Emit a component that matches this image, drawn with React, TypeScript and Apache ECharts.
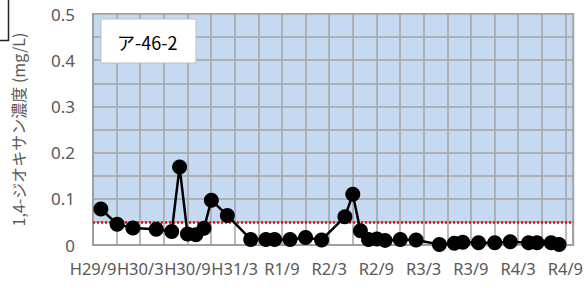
import React, { useEffect, useRef } from "react";
import * as echarts from "echarts";

const sampleDates = [
  "2017-10-01", "2017-12-03", "2018-02-03", "2018-05-02", "2018-07-01",
  "2018-08-01", "2018-09-01", "2018-10-03", "2018-11-04", "2018-12-02",
  "2019-02-03", "2019-05-02", "2019-06-30", "2019-08-03", "2019-10-02",
  "2019-12-01", "2020-02-02", "2020-05-01", "2020-06-01", "2020-06-30",
  "2020-08-01", "2020-09-03", "2020-10-04", "2020-12-02", "2021-02-02",
  "2021-05-01", "2021-06-28", "2021-07-30", "2021-09-30", "2021-12-02",
  "2022-02-01", "2022-04-11", "2022-05-13", "2022-07-07", "2022-08-07",
];
const concentrations = [
  0.078, 0.045, 0.037, 0.034, 0.029,
  0.169, 0.024, 0.022, 0.036, 0.097,
  0.064, 0.012, 0.012, 0.012, 0.012,
  0.016, 0.011, 0.061, 0.11, 0.031,
  0.012, 0.013, 0.010, 0.012, 0.011,
  0.001, 0.004, 0.006, 0.005, 0.005,
  0.007, 0.005, 0.005, 0.005, 0.001,
];
const xTickLabels = [
  "H29/9", "H30/3", "H30/9", "H31/3", "R1/9", "R2/3",
  "R2/9", "R3/3", "R3/9", "R4/3", "R4/9",
];
const standardValue = 0.05;
const yMax = 0.5;
const axisStartYear = 2017;
const axisStartMonth = 9;
const axisEndMonths = 61;
const wellName = "ア-46-2";
const yAxisTitle = "1,4-ジオキサン濃度 (mg/L)";

function monthIndex(d: string): number {
  const [y, m, day] = d.split("-").map(Number);
  return (y - axisStartYear) * 12 + (m - axisStartMonth) + (day - 1) / 30;
}

export default function App() {
  const ref = useRef<HTMLDivElement>(null);
  useEffect(() => {
    document.body.style.margin = "0";
    if (!ref.current) return;
    const chart = echarts.init(ref.current, undefined, { renderer: "svg" });
    const points = sampleDates.map((d, i) => [monthIndex(d), concentrations[i]]);
    const gray = "#595959";
    chart.setOption({
      animation: false,
      grid: {
        left: 93, top: 14, right: 10, bottom: 43,
        show: true, borderColor: "#a0a0a0", borderWidth: 2,
        backgroundColor: "transparent", z: 0,
      },
      xAxis: {
        type: "value", min: 0, max: axisEndMonths, interval: 3, z: 2,
        axisLine: { show: true, lineStyle: { color: "#a0a0a0", width: 2 } },
        axisTick: { show: false },
        splitLine: { show: true, lineStyle: { color: "#a3a3a3", width: 1.5 } },
        axisLabel: {
          margin: 15, color: gray, fontSize: 16.5, fontFamily: "Noto Sans",
          showMaxLabel: false,
          formatter: (v: number) => {
            const r = Math.round(v);
            if (r % 6 !== 0) return "";
            return xTickLabels[r / 6] ?? "";
          },
        },
      },
      yAxis: {
        type: "value", min: 0, max: yMax, interval: 0.05, z: 2,
        name: yAxisTitle, nameLocation: "middle", nameRotate: 90, nameGap: 67,
        nameTextStyle: { color: gray, fontSize: 16, fontFamily: "Noto Sans CJK JP" },
        axisLine: { show: true, lineStyle: { color: "#a0a0a0", width: 2 } },
        axisTick: { show: false },
        splitLine: { show: true, lineStyle: { color: "#a3a3a3", width: 1.5 } },
        axisLabel: {
          margin: 18, color: gray, fontSize: 17, fontFamily: "Noto Sans",
          formatter: (v: number) => {
            const c = Math.round(v * 100);
            if (c % 10 !== 0) return "";
            return c === 0 ? "0" : (c / 100).toFixed(1);
          },
        },
      },
      series: [
        {
          type: "line", z: 1, data: points, symbol: "none",
          lineStyle: { opacity: 0 }, silent: true,
          markArea: {
            z: 1, silent: true,
            itemStyle: { color: "#c5d9f1" },
            data: [[{ yAxis: standardValue }, { yAxis: yMax }]],
          },
        },
        {
          type: "line", z: 3, data: points, symbol: "none",
          lineStyle: { opacity: 0 }, silent: true,
          markLine: {
            z: 3, silent: true, symbol: "none", label: { show: false },
            lineStyle: { color: "#ff0000", type: [2, 2], width: 2.5 },
            data: [{ yAxis: standardValue }],
          },
        },
        {
          type: "line", z: 6, data: points,
          symbol: "circle", symbolSize: 15,
          itemStyle: { color: "#000000" },
          lineStyle: { color: "#000000", width: 2.5 },
        },
      ],
      graphic: [
        {
          type: "polyline", z: 20,
          shape: { points: [[0, 40.5], [8.5, 40.5], [8.5, 0]] },
          style: { stroke: "#222", lineWidth: 1.5, fill: null },
        },
        {
          type: "group", x: 101, y: 19, z: 20,
          children: [
            {
              type: "rect", z: 20, shape: { x: 0, y: 0, width: 95, height: 44 },
              style: { fill: "#ffffff", stroke: "#bfbfbf", lineWidth: 1 },
            },
            {
              type: "text", z: 21, x: 16, y: 23,
              style: {
                text: wellName, fill: "#000", fontSize: 18,
                fontFamily: "Noto Sans CJK JP", verticalAlign: "middle",
              },
            },
          ],
        },
      ],
    });
    return () => chart.dispose();
  }, []);
  return <div ref={ref} style={{ width: 586, height: 288 }} />;
}
